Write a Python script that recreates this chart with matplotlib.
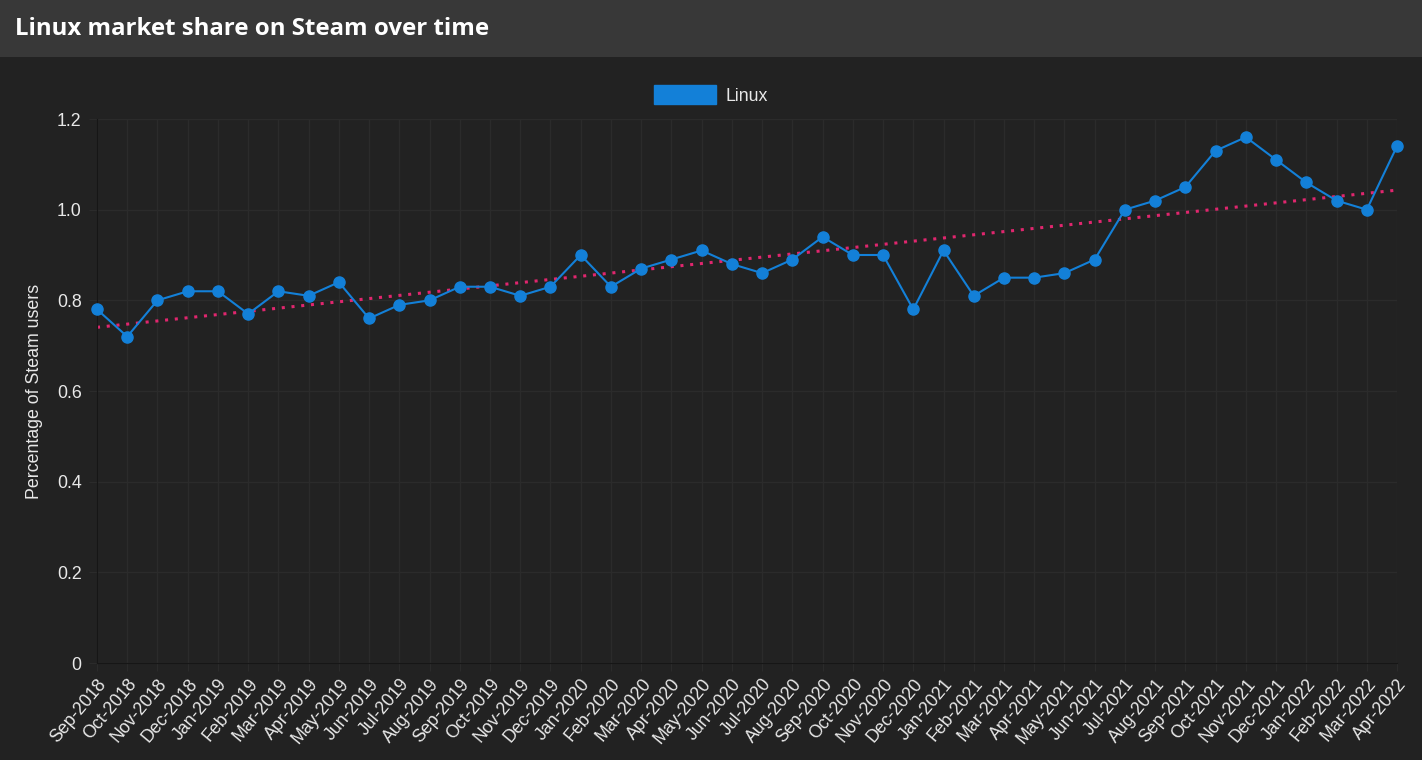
import numpy as np
import matplotlib
matplotlib.use("Agg")
import matplotlib.pyplot as plt
from matplotlib.patches import Rectangle, Patch

# ---- data ----
months = ["Sep-2018", "Oct-2018", "Nov-2018", "Dec-2018", "Jan-2019", "Feb-2019",
          "Mar-2019", "Apr-2019", "May-2019", "Jun-2019", "Jul-2019", "Aug-2019",
          "Sep-2019", "Oct-2019", "Nov-2019", "Dec-2019", "Jan-2020", "Feb-2020",
          "Mar-2020", "Apr-2020", "May-2020", "Jun-2020", "Jul-2020", "Aug-2020",
          "Sep-2020", "Oct-2020", "Nov-2020", "Dec-2020", "Jan-2021", "Feb-2021",
          "Mar-2021", "Apr-2021", "May-2021", "Jun-2021", "Jul-2021", "Aug-2021",
          "Sep-2021", "Oct-2021", "Nov-2021", "Dec-2021", "Jan-2022", "Feb-2022",
          "Mar-2022", "Apr-2022"]
linux = [0.78, 0.72, 0.80, 0.82, 0.82, 0.77,
         0.82, 0.81, 0.84, 0.76, 0.79, 0.80,
         0.83, 0.83, 0.81, 0.83, 0.90, 0.83,
         0.87, 0.89, 0.91, 0.88, 0.86, 0.89,
         0.94, 0.90, 0.90, 0.78, 0.91, 0.81,
         0.85, 0.85, 0.86, 0.89, 1.00, 1.02,
         1.05, 1.13, 1.16, 1.11, 1.06, 1.02,
         1.00, 1.14]
yticks = [0, 0.2, 0.4, 0.6, 0.8, 1.0, 1.2]
ytick_labels = ["0", "0.2", "0.4", "0.6", "0.8", "1.0", "1.2"]

BG = "#222222"
HEADER = "#383838"
BLUE = "#1380d8"
PINK = "#e0266e"
GRID = "#2b2b2b"
TXT = "#e8e8e8"

plt.rcParams["font.family"] = ["Liberation Sans", "DejaVu Sans"]

fig = plt.figure(figsize=(14.22, 7.6), dpi=100, facecolor=BG)
fig.patches.append(Rectangle((0, 1 - 57 / 760), 1, 57 / 760, transform=fig.transFigure,
                             facecolor=HEADER, edgecolor="none", zorder=0))
fig.text(15 / 1422, 1 - 29 / 760, "Linux market share on Steam over time",
         color="white", fontsize=17.3, fontweight="bold", family=["Open Sans", "DejaVu Sans"],
         va="center", ha="left")

ax = fig.add_axes([97 / 1422, 1 - 663 / 760, 1300 / 1422, 544 / 760])
ax.set_facecolor(BG)

x = np.arange(len(months))
ax.plot(x, linux, color=BLUE, lw=1.5, marker="o", ms=8, mec=BLUE, mfc=BLUE,
        zorder=3, clip_on=False)

# linear trend
k, b = np.polyfit(x, linux, 1)
ax.plot(x, k * x + b, color=PINK, lw=2.2, ls=(0, (1, 2.2)), zorder=2)

ax.set_xlim(0, len(months) - 1)
ax.set_ylim(0, 1.2)
ax.set_xticks(x)
ax.set_xticklabels(months, rotation=50, ha="right", rotation_mode="anchor",
                   color=TXT, fontsize=12.8)
ax.set_yticks(yticks)
ax.set_yticklabels(ytick_labels, color=TXT, fontsize=12.8)
ax.tick_params(axis="both", length=6, color=GRID, pad=5)
ax.tick_params(axis="x", pad=3)
ax.grid(True, color=GRID, lw=1)
ax.set_axisbelow(True)
for s in ["top", "right"]:
    ax.spines[s].set_visible(False)
for s in ["left", "bottom"]:
    ax.spines[s].set_color("#161616")
ax.set_ylabel("Percentage of Steam users", color=TXT, fontsize=12.8, labelpad=10)

fig.legend(handles=[Patch(facecolor=BLUE, edgecolor=BLUE, label="Linux")],
           loc="center", bbox_to_anchor=(0.5, 1 - 95 / 760), frameon=False,
           labelcolor=TXT, fontsize=12.8, handlelength=3.5, handleheight=1.2,
           handletextpad=0.5)

fig.savefig("out.png", dpi=100, facecolor=BG)
